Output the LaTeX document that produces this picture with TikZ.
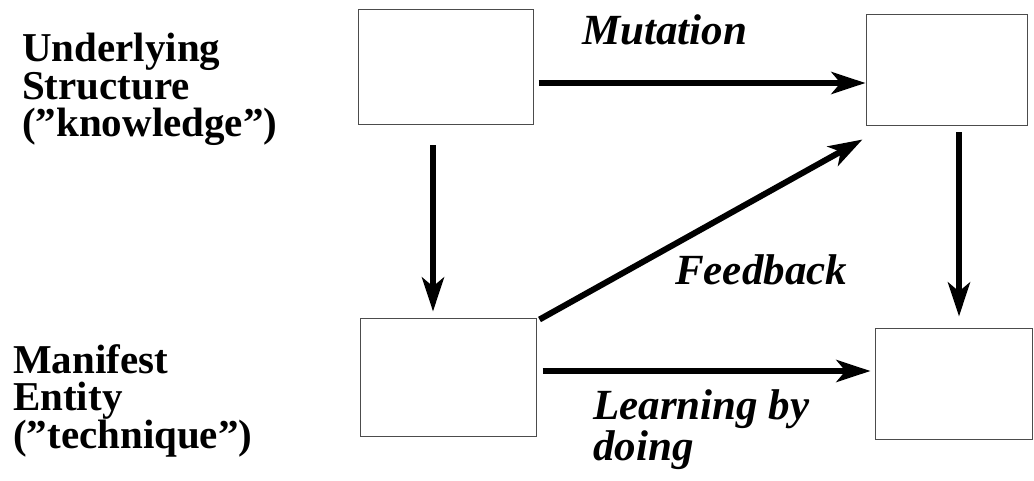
\documentclass[tikz,border=0pt]{standalone}
\usepackage{fontspec}
\setmainfont{Liberation Serif}
\usetikzlibrary{arrows.meta,positioning}

\begin{document}
\begin{tikzpicture}[x=1pt, y=-1pt,
    box/.style={rectangle, draw=black!70, line width=1pt, inner sep=0pt},
    flow/.style={-{Stealth[length=34pt, width=22pt, inset=9pt]}, line width=6pt},
    side/.style={font=\fontsize{41}{37.5}\selectfont\bfseries, align=left, inner sep=0pt, anchor=base west},
    tag/.style={font=\fontsize{43}{35}\selectfont\bfseries\itshape, align=left, inner sep=0pt, anchor=base west}]
    \useasboundingbox (0,0) rectangle (1034,481);

    % Row labels
    \node[side] (under) at (22,137) {Underlying\\Structure\\(”knowledge”)};
    \node[side] (manif) at (13,448) {Manifest\\Entity\\(”technique”)};

    % Boxes
    \node[box, minimum width=175pt, minimum height=115pt] (know1) at (445.5,67.5) {};
    \node[box, minimum width=161pt, minimum height=111pt] (know2) at (946.5,70.5) {};
    \node[box, minimum width=176pt, minimum height=118pt] (tech1) at (448,377) {};
    \node[box, minimum width=157pt, minimum height=111pt] (tech2) at (953.5,383.5) {};

    % Arrows
    \draw[flow] ([xshift=5pt,yshift=-15.5pt]know1.east) -- ([yshift=-12.5pt]know2.west);
    \draw[flow] ([xshift=-12.5pt,yshift=-20pt]know1.south) -- ([xshift=-15pt,yshift=6pt]tech1.north);
    \draw[flow] ([xshift=12.5pt,yshift=-6pt]know2.south) -- ([xshift=5.5pt,yshift=11pt]tech2.north);
    \draw[flow] ([xshift=6pt,yshift=6pt]tech1.east) -- ([xshift=-4pt,yshift=12.5pt]tech2.west);
    \draw[flow] ([xshift=3pt,yshift=-2pt]tech1.north east) -- ([xshift=-3pt,yshift=-13pt]know2.south west);

    % Arrow labels
    \node[tag] (mut) at (582,45) {Mutation};
    \node[tag] (feed) at (675,284) {Feedback};
    \node[tag] (learn) at (593,460) {Learning by\\doing};
\end{tikzpicture}
\end{document}
